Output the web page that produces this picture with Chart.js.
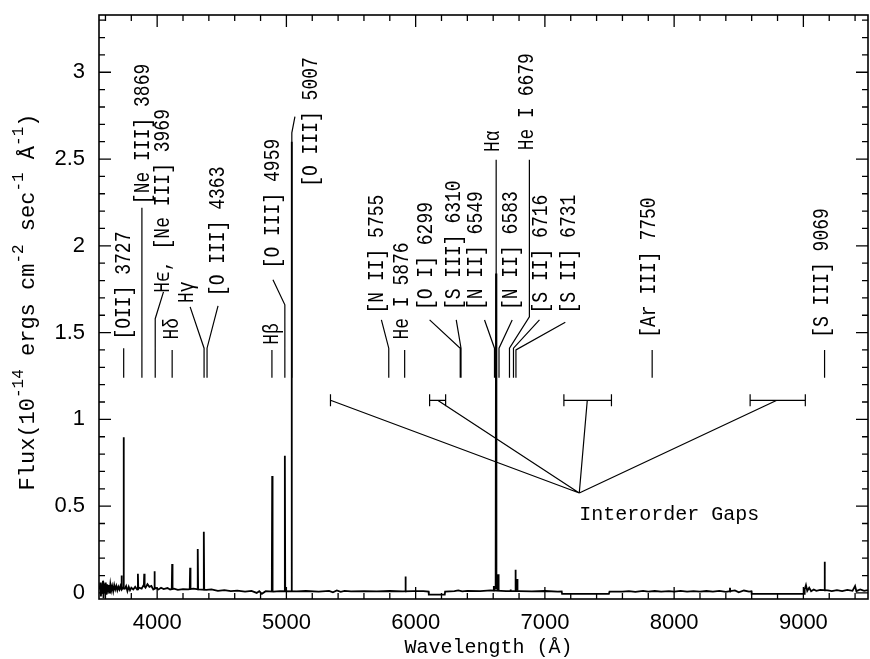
<!DOCTYPE html>
<html lang="en">
<head>
  <meta charset="UTF-8">
  <title>Emission line spectrum</title>
  <style>
    html, body { margin: 0; padding: 0; background: #fff; }
    .chart-container { width: 870px; height: 659px; }
  </style>
</head>
<body>
  <div class="chart-container">
    <canvas id="specChart" width="870" height="659"></canvas>
  </div>

  <script src="https://cdn.jsdelivr.net/npm/chart.js"></script>
  <script>
    // continuum (wavelength in A, flux in 1e-14 units)
    const contWave = [3555, 3560, 3565, 3570, 3575, 3580, 3585, 3590, 3596, 3602, 3608, 3614, 3620, 3626, 3632, 3638,
      3645, 3652, 3660, 3668, 3676, 3684, 3692, 3700, 3708, 3716, 3724, 3732, 3750, 3760, 3770, 3780, 3790, 3800,
      3815, 3830, 3845, 3860, 3880, 3895, 3910, 3925, 3940, 3955, 3970, 3990, 4010, 4030, 4050, 4080, 4100, 4130,
      4160, 4200, 4240, 4280, 4320, 4380, 4420, 4470, 4520, 4570, 4620, 4680, 4730, 4770, 4790, 4810, 4840, 4900,
      4950, 5080, 5150, 5250, 5330, 5360, 5390, 5420, 5450, 5500, 5600, 5700, 5800, 5900, 5980, 6060, 6100, 6102,
      6225, 6228, 6300, 6330, 6360, 6400, 6500, 6580, 6700, 6800, 6900, 7000, 7100, 7130, 7133, 7495, 7500, 7600,
      7650, 7700, 7760, 7800, 7850, 7900, 7960, 8000, 8050, 8100, 8150, 8200, 8250, 8300, 8350, 8400, 8470, 8500,
      8540, 8580, 8598, 8600, 9005, 9010, 9020, 9030, 9045, 9060, 9080, 9100, 9130, 9190, 9220, 9260, 9300, 9340,
      9380, 9400, 9410, 9440, 9470, 9500];
    const contFlux = [0.02, 0.06, -0.02, 0.05, 0.0, 0.07, -0.03, 0.04, 0.02, 0.06, -0.01, 0.05, 0.01, 0.045, 0.0, 0.05,
      0.015, 0.04, 0.01, 0.045, 0.02, 0.04, 0.015, 0.035, 0.02, 0.04, 0.02, 0.03, 0.025, 0.04, 0.01, 0.035, 0.015, 0.03,
      0.02, 0.035, 0.02, 0.03, 0.025, 0.045, 0.03, 0.05, 0.035, 0.04, 0.02, 0.03, 0.02, 0.03, 0.022, 0.028, 0.02, 0.025,
      0.018, 0.022, 0.02, 0.025, 0.02, 0.018, 0.02, 0.012, 0.016, 0.01, 0.013, 0.008, 0.012, 0.0, 0.01, -0.005, 0.01, 0.008,
      0.01, 0.009, 0.011, 0.008, 0.012, 0.004, 0.014, 0.006, 0.012, 0.009, 0.01, 0.009, 0.011, 0.009, 0.01, 0.01, 0.008, -0.01,
      -0.01, 0.008, 0.01, 0.015, 0.009, 0.012, 0.01, 0.015, 0.01, 0.01, 0.009, 0.011, 0.008, 0.009, -0.006, -0.006, 0.007, 0.008,
      0.01, 0.006, 0.012, 0.008, 0.011, 0.007, 0.01, 0.008, 0.012, 0.007, 0.01, 0.008, 0.011, 0.008, 0.012, 0.006, 0.015, 0.004,
      0.014, 0.008, 0.01, -0.006, -0.006, 0.02, 0.045, 0.012, 0.03, 0.01, 0.02, 0.012, 0.018, 0.015, 0.01, 0.016, 0.01, 0.017,
      0.012, 0.04, 0.01, 0.02, 0.012, 0.016];

    // emission line spikes (observed position, peak, foot)
    const lineWave = [3724, 3740, 3851, 3900, 3979, 4116, 4255, 4314, 4361, 4890, 4988, 5040, 5921, 6605, 6622, 6639, 6734, 6772, 6785, 8432, 9164];
    const linePeak = [0.10, 0.897, 0.11, 0.11, 0.125, 0.167, 0.145, 0.253, 0.353, 0.674, 0.79, 2.6, 0.094, 0.04, 1.84, 0.108, 0.02, 0.133, 0.08, 0.03, 0.18];
    const lineFoot = [0.02, 0.025, 0.02, 0.04, 0.025, 0.02, 0.02, 0.02, 0.02, 0.008, 0.01, 0.01, 0.009, 0.015, 0.02, 0.015, 0.01, 0.012, 0.012, 0.008, 0.015];

    // axis ticks
    const xTicks = [4000, 5000, 6000, 7000, 8000, 9000];
    const yTicks = [0, 0.5, 1, 1.5, 2, 2.5, 3];

    // line identifications: text, text centre wavelength, flux where text starts
    const labelText = ['[OII] 3727', '[Ne III] 3869', 'H\u03f5, [Ne III] 3969', 'H\u03b4', 'H\u03b3', '[O III] 4363',
      'H\u03b2', '[O III] 4959', '[O III] 5007', '[N II] 5755', 'He I 5876', '[O I] 6299', '[S III] 6310',
      '[N II] 6549', 'H\u03b1', '[N II] 6583', 'He I 6679', '[S II] 6716', '[S II] 6731', '[Ar III] 7750', '[S III] 9069'];
    const labelWave = [3749, 3892, 4049, 4116, 4232, 4471, 4888, 4896, 5189, 5707, 5900, 6085, 6301,
      6469, 6597, 6739, 6865, 6971, 7189, 7807, 9143];
    const labelFlux = [1.46, 2.24, 1.73, 1.46, 1.67, 1.71, 1.43, 1.87, 2.34, 1.61, 1.46, 1.63, 1.63,
      1.63, 2.54, 1.63, 2.55, 1.61, 1.61, 1.47, 1.47];
    // leader lines, [wavelength, flux] vertices
    const leaders = [
      [[3741, 1.41], [3741, 1.24]],
      [[3882, 2.22], [3882, 1.24]],
      [[4049, 1.735], [3985, 1.58], [3985, 1.24]],
      [[4116, 1.40], [4116, 1.24]],
      [[4255, 1.648], [4363, 1.41], [4363, 1.24]],
      [[4471, 1.654], [4386, 1.41], [4386, 1.24]],
      [[4888, 1.40], [4888, 1.24]],
      [[4896, 1.804], [4988, 1.66], [4988, 1.24]],
      [[5042, 1.24], [5042, 2.651], [5066, 2.744]],
      [[5735, 1.573], [5792, 1.41], [5792, 1.24]],
      [[5915, 1.40], [5915, 1.24]],
      [[6108, 1.573], [6345, 1.41], [6345, 1.24]],
      [[6314, 1.573], [6351, 1.41], [6351, 1.24]],
      [[6533, 1.573], [6610, 1.41], [6610, 1.24]],
      [[6623, 2.496], [6623, 1.24]],
      [[6747, 1.573], [6645, 1.41], [6645, 1.24]],
      [[6880, 2.496], [6880, 1.591], [6726, 1.41], [6726, 1.24]],
      [[6958, 1.573], [6757, 1.41], [6757, 1.24]],
      [[7158, 1.56], [6776, 1.40], [6776, 1.24]],
      [[7830, 1.40], [7830, 1.24]],
      [[9164, 1.40], [9164, 1.24]]
    ];

    // interorder gaps
    const gapStart = [5341, 6108, 7147, 8588];
    const gapEnd = [5341, 6232, 7515, 9015];
    const gapLead = [5341, 6170, 7328, 8795];
    const gapLevel = 1.11;
    const gapPoint = [7266, 0.576];
    const noteText = 'Interorder Gaps';
    const notePos = [7266, 0.45];

    const contData = contWave.map((w, i) => ({ x: w, y: contFlux[i] }));
    const spikeData = lineWave.flatMap((w, i) => [
      { x: w - 3, y: lineFoot[i] }, { x: w, y: linePeak[i] }, { x: w + 3, y: lineFoot[i] }, { x: w + 3, y: null }
    ]);

    const MONO = '"Liberation Mono", "DejaVu Sans Mono", monospace';

    const decorations = {
      id: 'decorations',
      afterDatasetsDraw(chart) {
        const ctx = chart.ctx;
        const xa = chart.scales.x, ya = chart.scales.y, a = chart.chartArea;
        const X = v => xa.getPixelForValue(v), Y = v => ya.getPixelForValue(v);
        ctx.save();
        ctx.strokeStyle = '#000';
        ctx.fillStyle = '#000';

        // frame
        ctx.lineWidth = 1.6;
        ctx.strokeRect(a.left, a.top, a.right - a.left, a.bottom - a.top);

        // inward ticks on all four sides
        ctx.lineWidth = 1.3;
        ctx.beginPath();
        for (let v = 3600; v <= 9400; v += 200) {
          const px = X(v), len = xTicks.includes(v) ? 12 : 6;
          ctx.moveTo(px, a.bottom); ctx.lineTo(px, a.bottom - len);
          ctx.moveTo(px, a.top); ctx.lineTo(px, a.top + len);
        }
        for (let k = 0; k <= 33; k++) {
          const py = Y(k / 10), len = k % 5 === 0 ? 12 : 6;
          ctx.moveTo(a.left, py); ctx.lineTo(a.left + len, py);
          ctx.moveTo(a.right, py); ctx.lineTo(a.right - len, py);
        }
        ctx.stroke();

        // leader lines
        ctx.lineWidth = 1.2;
        ctx.beginPath();
        leaders.forEach(path => {
          path.forEach((p, i) => {
            if (i === 0) ctx.moveTo(X(p[0]), Y(p[1]));
            else ctx.lineTo(X(p[0]), Y(p[1]));
          });
        });
        ctx.stroke();

        // line labels, rotated; glyphs stretched a bit like the plotter font
        ctx.font = '18px ' + MONO;
        ctx.textAlign = 'left';
        ctx.textBaseline = 'middle';
        labelText.forEach((t, i) => {
          ctx.save();
          ctx.translate(X(labelWave[i]), Y(labelFlux[i]));
          ctx.rotate(-Math.PI / 2);
          ctx.scale(1, 1.2);
          ctx.fillText(t, 0, 0);
          ctx.restore();
        });

        // interorder gap brackets
        ctx.lineWidth = 1.2;
        ctx.beginPath();
        const gy = Y(gapLevel);
        gapStart.forEach((s, i) => {
          const x0 = X(s), x1 = X(gapEnd[i]);
          ctx.moveTo(x0, gy); ctx.lineTo(x1, gy);
          ctx.moveTo(x0, gy - 6); ctx.lineTo(x0, gy + 6);
          ctx.moveTo(x1, gy - 6); ctx.lineTo(x1, gy + 6);
          ctx.moveTo(X(gapLead[i]), gy); ctx.lineTo(X(gapPoint[0]), Y(gapPoint[1]));
        });
        ctx.stroke();
        ctx.font = '20px ' + MONO;
        ctx.textAlign = 'left';
        ctx.fillText(noteText, X(notePos[0]), Y(notePos[1]));

        // x axis title
        ctx.textAlign = 'center';
        ctx.fillText('Wavelength (\u00c5)', (a.left + a.right) / 2 + 5, 648);

        // y axis title with superscripts
        const parts = [['Flux(10', 0], ['-14', 1], [' ergs cm', 0], ['-2', 1], [' sec', 0], ['-1', 1], [' \u00c5', 0], ['-1', 1], [')', 0]];
        const fontFor = s => (s ? '16px ' : '22px ') + MONO;
        let total = 0;
        parts.forEach(p => { ctx.font = fontFor(p[1]); total += ctx.measureText(p[0]).width; });
        ctx.save();
        ctx.translate(28, 302);
        ctx.rotate(-Math.PI / 2);
        ctx.textAlign = 'left';
        let pos = -total / 2;
        parts.forEach(p => {
          ctx.font = fontFor(p[1]);
          ctx.fillText(p[0], pos, p[1] ? -9 : 0);
          pos += ctx.measureText(p[0]).width;
        });
        ctx.restore();

        ctx.restore();
      }
    };

    const ctx = document.getElementById('specChart').getContext('2d');
    const chart = new Chart(ctx, {
      type: 'line',
      data: {
        datasets: [{
          label: 'continuum',
          data: contData,
          borderColor: '#000',
          borderWidth: 1.8,
          pointRadius: 0,
          tension: 0
        }, {
          label: 'lines',
          data: spikeData,
          borderColor: '#000',
          borderWidth: 1.8,
          pointRadius: 0,
          tension: 0,
          spanGaps: false
        }]
      },
      options: {
        responsive: false,
        animation: false,
        layout: { padding: { top: 15, right: 2, left: 0, bottom: 0 } },
        plugins: { legend: { display: false }, tooltip: { enabled: false } },
        scales: {
          x: {
            type: 'linear',
            min: 3550,
            max: 9500,
            afterFit: s => { s.height = 60; s.paddingLeft = 0; s.paddingRight = 0; },
            afterBuildTicks: s => { s.ticks = xTicks.map(v => ({ value: v })); },
            grid: { display: false, drawTicks: false },
            border: { display: false },
            ticks: {
              padding: 11,
              color: '#000',
              maxRotation: 0,
              autoSkip: false,
              font: { family: '"Liberation Sans", Arial, sans-serif', size: 22 },
              callback: v => String(v)
            }
          },
          y: {
            type: 'linear',
            min: -0.035,
            max: 3.33,
            afterFit: s => { s.width = 99; s.paddingTop = 0; s.paddingBottom = 0; },
            afterBuildTicks: s => { s.ticks = yTicks.map(v => ({ value: v })); },
            grid: { display: false, drawTicks: false },
            border: { display: false },
            ticks: {
              padding: 14,
              color: '#000',
              autoSkip: false,
              font: { family: '"Liberation Sans", Arial, sans-serif', size: 22 },
              callback: v => String(v)
            }
          }
        }
      },
      plugins: [decorations]
    });
  </script>
</body>
</html>
